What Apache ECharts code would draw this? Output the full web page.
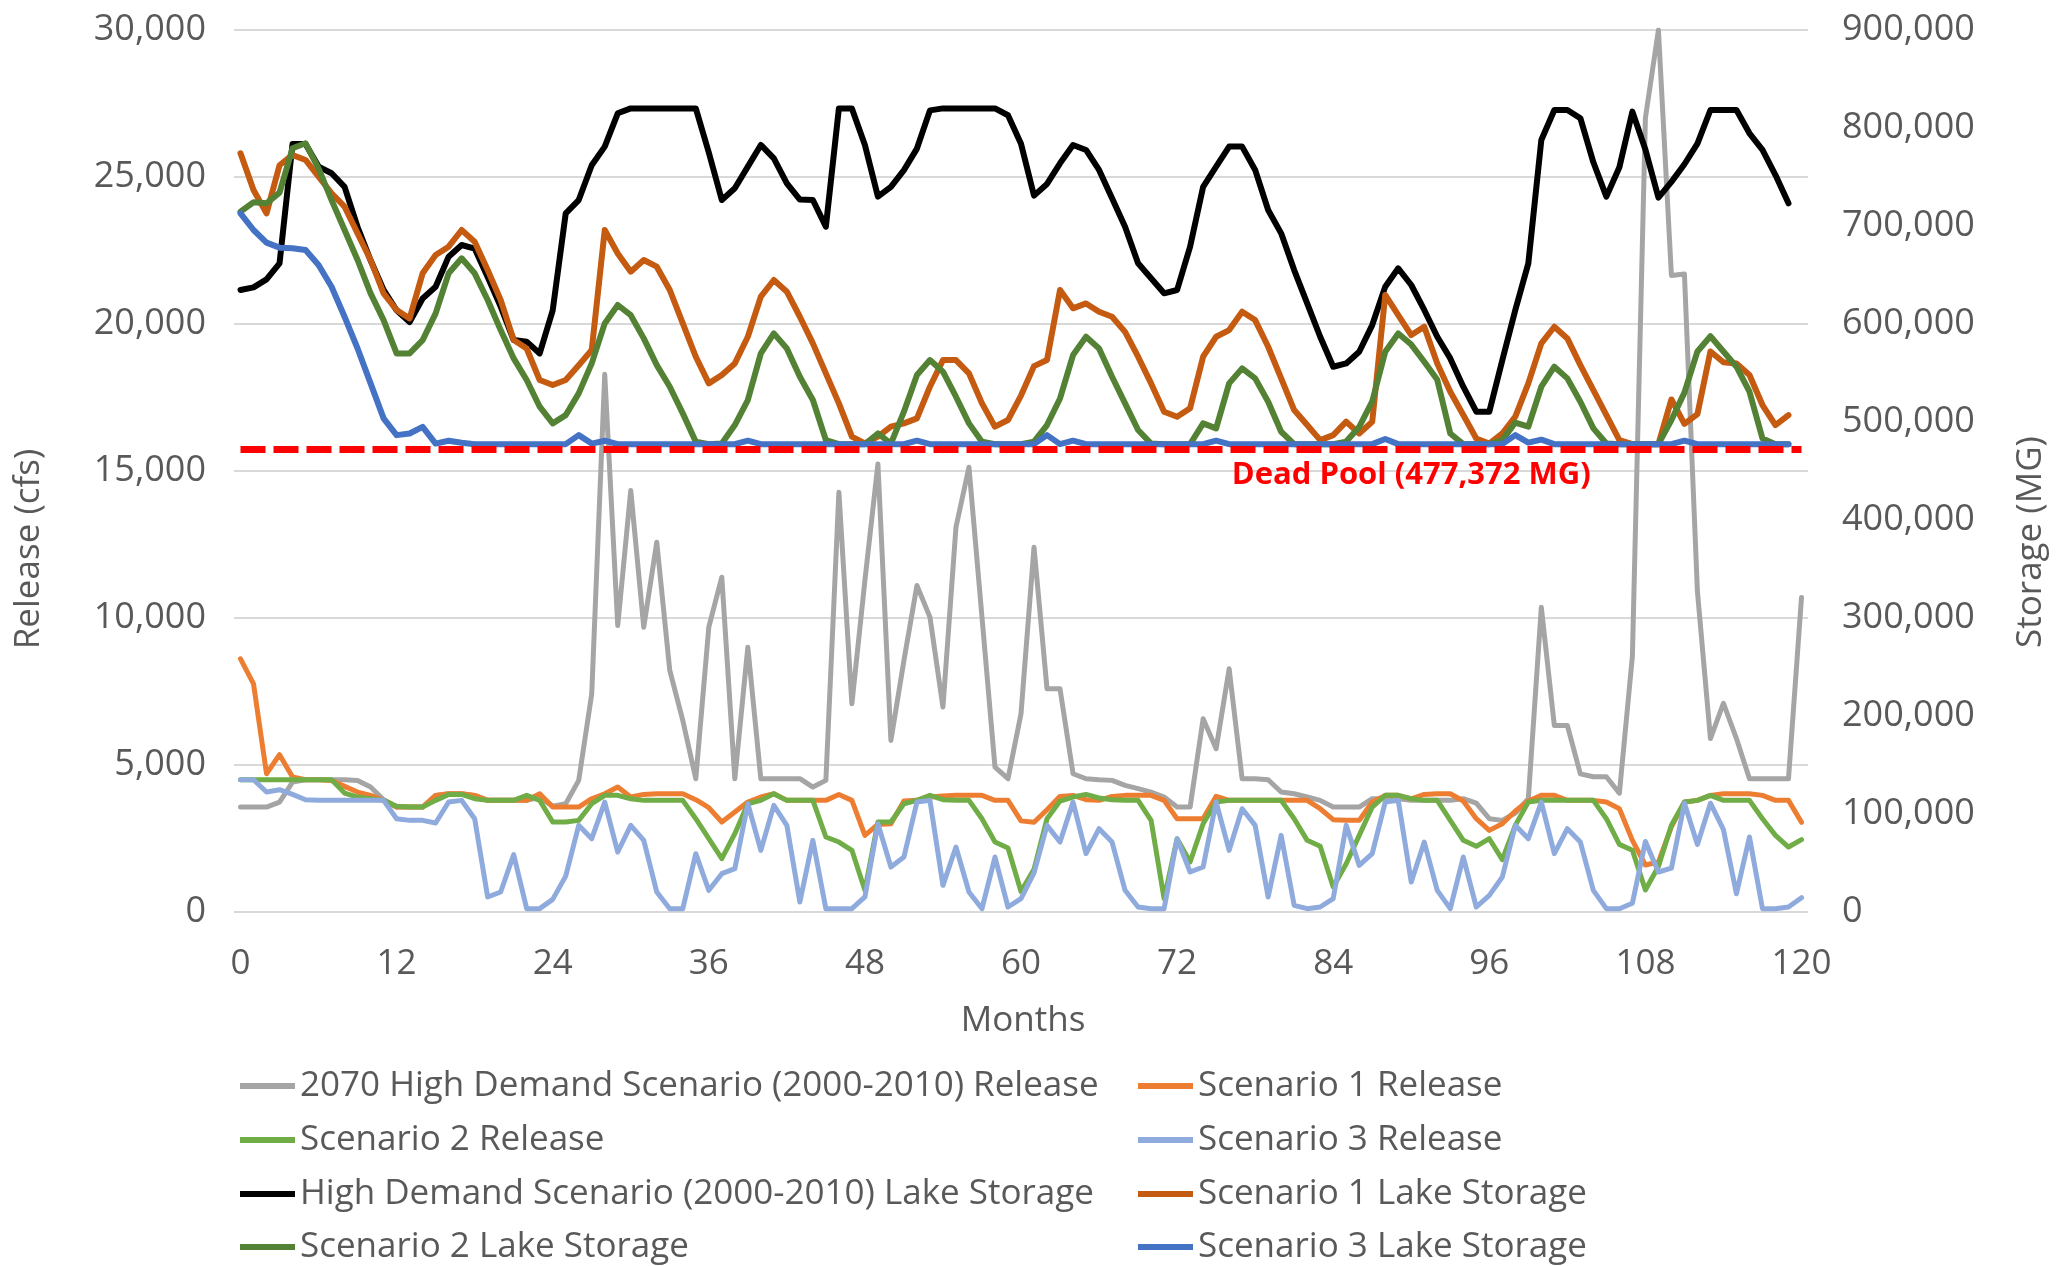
<!DOCTYPE html>
<html>
<head>
<meta charset="utf-8">
<script src="https://cdn.jsdelivr.net/npm/echarts@6/dist/echarts.min.js"></script>
<style>
html,body{margin:0;padding:0;background:#ffffff;}
#chart{width:2056px;height:1266px;}
</style>
</head>
<body>
<div id="chart"></div>
<script>
// ---- categories (months) ----
const months = [];
for (let i = 0; i <= 120; i++) months.push(String(i));

// ---- Release series (cfs), months 0..120 ----
const greyRelease = [3570,3570,3570,3740,4420,4500,4500,4500,4500,4476,4250,3820,3570,3570,3570,3967,4023,4023,3967,3797,3797,3797,3797,3900,3600,3683,4477,7422,18290,9745,14334,9688,12578,8215,6516,4533,9688,11388,4533,9008,4533,4533,4533,4533,4250,4477,14277,7082,11275,15240,5836,8555,11105,10029,6969,13087,15127,10029,4930,4533,6742,12408,7592,7592,4703,4533,4500,4477,4307,4194,4080,3910,3570,3570,6573,5553,8272,4533,4533,4500,4080,4023,3910,3797,3570,3570,3570,3853,3850,3850,3797,3797,3797,3797,3853,3706,3173,3117,3366,3853,10368,6346,6346,4700,4600,4600,4040,8700,27000,30000,21650,21700,10900,5900,7100,5900,4533,4533,4533,4533,10700];
const s1Release = [8612,7762,4703,5350,4590,4500,4500,4476,4273,4080,3967,3800,3570,3570,3570,3967,4023,4023,3967,3797,3797,3797,3797,4023,3570,3570,3570,3853,4023,4250,3910,4000,4023,4023,4023,3820,3547,3060,3400,3740,3910,4023,3797,3797,3797,3797,4000,3797,2606,2980,3003,3774,3797,3910,3944,3967,3967,3967,3797,3797,3100,3050,3480,3933,3967,3820,3797,3933,3967,3967,3967,3797,3173,3173,3173,3933,3797,3797,3797,3797,3797,3797,3797,3513,3140,3117,3117,3740,3967,3967,3850,4000,4023,4023,3774,3173,2777,3003,3434,3774,3967,3967,3797,3797,3797,3740,3513,2437,1600,1700,2900,3740,3797,3967,4023,4023,4023,3967,3797,3797,3050];
const s2Release = [4500,4500,4500,4500,4500,4500,4500,4500,4046,3910,3853,3797,3593,3570,3570,3797,4000,4000,3853,3797,3797,3797,3967,3797,3060,3060,3117,3683,3967,3967,3853,3797,3797,3797,3797,3173,2493,1813,2663,3683,3797,4023,3797,3797,3797,2550,2380,2097,737,3060,3060,3683,3797,3967,3820,3797,3797,3173,2380,2180,700,1450,3173,3774,3910,4000,3877,3820,3797,3797,3117,453,2493,1700,3003,3740,3797,3797,3797,3797,3797,3173,2437,2233,850,1643,2606,3570,3967,3967,3853,3797,3797,3117,2437,2233,2493,1780,2947,3740,3797,3797,3797,3797,3797,3173,2300,2100,750,1550,2950,3740,3797,3967,3797,3797,3797,3173,2606,2210,2460];
const s3Release = [4500,4500,4080,4160,4000,3820,3797,3797,3797,3797,3797,3797,3173,3117,3117,3026,3740,3797,3173,511,680,1950,114,114,430,1220,2947,2493,3740,2040,2947,2437,680,113,113,1983,737,1303,1473,3683,2097,3627,2947,340,2437,113,113,113,511,3003,1530,1870,3740,3797,907,2210,680,113,1870,170,453,1330,2947,2380,3740,1983,2833,2380,737,170,113,113,2493,1360,1530,3740,2097,3513,2947,511,2606,226,113,170,453,2947,1586,1983,3740,3797,1020,2380,737,113,1870,170,567,1190,2947,2493,3740,1983,2833,2380,737,113,113,300,2400,1360,1490,3700,2300,3700,2800,623,2550,113,113,170,487];

// ---- Lake storage series (MG), months 0..119 ----
const hdStorage = [634700,637400,645500,661900,783700,783700,760600,753800,740000,699000,665000,634700,614000,602000,626000,638000,668700,680600,677000,648000,617700,583600,582000,570000,614000,712900,726500,762000,781000,815000,820000,820000,820000,820000,820000,820000,775000,726500,738500,760600,782700,769000,743600,727000,726500,699300,820000,820000,782700,730000,740000,757000,779000,818000,820000,820000,820000,820000,820000,813000,784000,731000,742900,764000,782700,777600,757200,728200,699300,661900,646600,631300,634700,678900,740000,760600,781000,781000,757200,716300,692500,655000,621000,587000,556400,559800,571700,598900,638100,656800,639800,614300,587000,564900,536000,510500,510500,563000,614300,661900,787800,818400,818400,810000,765000,730000,760000,816700,778000,729000,745000,763000,784000,818400,818400,818400,794600,777600,752000,723100];
const s1Storage = [774200,736700,712900,762000,772500,767400,750400,733400,719700,692500,665300,631300,614300,605700,651700,670400,678900,695900,684000,655000,624500,583600,575000,542800,537700,542800,558000,573400,695900,672000,653400,665300,658500,634700,600600,566600,539400,547900,559800,587000,627900,644900,633000,607400,580200,549600,519000,485000,478200,485000,495200,498600,503700,536000,563200,563200,549600,519000,495200,502000,527000,557000,563200,634700,616000,621000,612500,607400,592000,566600,539400,510500,505400,514000,566600,587000,593800,612500,604000,576800,544500,512200,496900,481500,486600,500300,488300,500300,629600,609100,588700,597200,559800,530900,507100,483200,478000,488300,505400,539400,580200,597200,585300,558000,532600,507000,481500,477400,477400,477400,523000,498000,508000,572000,561000,559800,547900,517300,496900,507000];
const s2Storage = [714600,724200,723100,734000,779300,784400,758900,726500,695900,665300,631300,604000,570000,570000,583600,610800,651700,667000,651700,624500,593800,564900,542800,515600,498600,507000,529200,559800,600600,619400,609000,585300,558000,536000,508800,479900,477400,478000,496900,522400,570000,590400,575000,546200,522400,481500,477400,477400,477400,488300,478000,510500,547900,563200,551300,525800,498600,479900,477400,477400,477400,480000,496900,524000,568300,587000,575000,546200,519000,491800,478000,477400,477400,477400,498600,493500,539400,554700,544500,520700,490000,477400,477400,477400,477400,480000,495000,521000,571700,590400,579000,561500,543000,488300,477400,477400,477400,481500,499400,495200,536000,556400,544500,520700,493500,478000,477400,477400,477400,477400,502000,530000,572000,587500,572000,556400,530900,483200,477400,477400];
const s3Storage = [712900,695900,683000,677900,677200,675500,660200,638000,607400,575000,539400,503700,486600,488300,495000,478000,480900,478800,477400,477400,477400,477400,477400,477400,477400,477400,486600,478000,480900,477400,477400,477400,477400,477400,477400,477400,477400,477400,477400,480900,477400,477400,477400,477400,477400,477400,477400,477400,477400,477400,477400,477400,480900,477400,477400,477400,477400,477400,477400,477400,477400,477400,486600,477400,480900,477400,477400,477400,477400,477400,477400,477400,477400,477400,477400,480900,477400,477400,477400,477400,477400,477400,477400,477400,477400,477400,477400,477400,482600,477400,477400,477400,477400,477400,477400,477400,477400,477400,486600,479000,482000,477400,477400,477400,477400,477400,477400,477400,477400,477400,477400,480900,477400,477400,477400,477400,477400,477400,477400,477400];

// ---- reference line ----
const deadPoolLine = 472000;           // drawn position
const deadPoolText = 'Dead Pool (477,372 MG)';
const deadPoolLabelMonth = '90';

// ---- names / colours ----
const names = {
  grey: '2070 High Demand Scenario (2000-2010) Release',
  s1r: 'Scenario 1 Release',
  s2r: 'Scenario 2 Release',
  s3r: 'Scenario 3 Release',
  hd: 'High Demand Scenario (2000-2010) Lake Storage',
  s1s: 'Scenario 1 Lake Storage',
  s2s: 'Scenario 2 Lake Storage',
  s3s: 'Scenario 3 Lake Storage'
};

const FONT = '"Open Sans", "Noto Sans", sans-serif';
const TXT = '#595959';

function fmt(v){ return Number(v).toLocaleString('en-US'); }

function lineSeries(name, data, color, width, yIdx){
  return {
    name: name, type: 'line', data: data, yAxisIndex: yIdx,
    showSymbol: false, symbol: 'none', smooth: false,
    lineStyle: {color: color, width: width, cap: 'round', join: 'round'},
    itemStyle: {color: color},
    emphasis: {disabled: true},
    z: yIdx === 1 ? 3 : 2
  };
}

const series = [
  lineSeries(names.grey, greyRelease, '#A5A5A5', 5, 0),
  lineSeries(names.s1r, s1Release, '#ED7D31', 5, 0),
  lineSeries(names.s2r, s2Release, '#70AD47', 5, 0),
  lineSeries(names.s3r, s3Release, '#8FAADC', 5, 0),
  lineSeries(names.hd, hdStorage, '#000000', 6, 1),
  lineSeries(names.s1s, s1Storage, '#C55A11', 6, 1),
  lineSeries(names.s2s, s2Storage, '#548235', 6, 1),
  lineSeries(names.s3s, s3Storage, '#4472C4', 6, 1)
];

series[7].markLine = {
  silent: true, symbol: ['none','none'], animation: false,
  label: {show: false},
  lineStyle: {color: '#FF0000', width: 7, type: [25, 8], opacity: 1},
  data: [[{coord: ['0', deadPoolLine]}, {coord: ['120', deadPoolLine]}]],
  z: 10
};
series[7].markPoint = {
  silent: true, animation: false,
  symbol: 'circle', symbolSize: 1,
  itemStyle: {color: 'rgba(0,0,0,0)'},
  label: {show: true, position: 'bottom', distance: 10, formatter: deadPoolText,
          color: '#FF0000', fontWeight: 'bold', fontSize: 31, fontFamily: FONT},
  data: [{coord: [deadPoolLabelMonth, deadPoolLine]}]
};

// legend: two columns x four rows, one legend entry each
const legendLayout = [
  [names.grey, 240, 1086], [names.s1r, 1138, 1086],
  [names.s2r, 240, 1140], [names.s3r, 1138, 1140],
  [names.hd, 240, 1194], [names.s1s, 1138, 1194],
  [names.s2s, 240, 1247], [names.s3s, 1138, 1247]
];
const legends = legendLayout.map(function(l){
  return {
    data: [l[0]], left: l[1], top: l[2] - 18, padding: 0,
    orient: 'horizontal', icon: 'rect', itemWidth: 55, itemHeight: 6,
    selectedMode: false,
    textStyle: {fontFamily: FONT, fontSize: 35, color: TXT, lineHeight: 36}
  };
});

const option = {
  animation: false,
  backgroundColor: '#ffffff',
  grid: {left: 234, right: 248, top: 30, bottom: 354, containLabel: false},
  legend: legends,
  xAxis: {
    type: 'category', data: months, boundaryGap: true,
    axisLine: {show: false}, axisTick: {show: false},
    axisLabel: {interval: 11, margin: 35, fontFamily: FONT, fontSize: 35, color: TXT},
    splitLine: {show: false}
  },
  yAxis: [
    {type: 'value', min: 0, max: 30000, interval: 5000,
     axisLine: {show: false}, axisTick: {show: false},
     axisLabel: {margin: 28, fontFamily: FONT, fontSize: 36, color: TXT, formatter: fmt},
     splitLine: {show: true, lineStyle: {color: '#D9D9D9', width: 2}}},
    {type: 'value', min: 0, max: 900000, interval: 100000, position: 'right',
     axisLine: {show: false}, axisTick: {show: false},
     axisLabel: {margin: 34, fontFamily: FONT, fontSize: 36, color: TXT, formatter: fmt},
     splitLine: {show: false}}
  ],
  graphic: [
    {type: 'text', x: 29, y: 549, rotation: Math.PI/2,
     style: {text: 'Release (cfs)', fontFamily: FONT, fontSize: 35, fill: TXT, textAlign: 'center', textVerticalAlign: 'middle'}},
    {type: 'text', x: 2031, y: 542, rotation: Math.PI/2,
     style: {text: 'Storage (MG)', fontFamily: FONT, fontSize: 35, fill: TXT, textAlign: 'center', textVerticalAlign: 'middle'}},
    {type: 'text', x: 1023, y: 1021,
     style: {text: 'Months', fontFamily: FONT, fontSize: 35, fill: TXT, textAlign: 'center', textVerticalAlign: 'middle'}}
  ],
  series: series
};

const chart = echarts.init(document.getElementById('chart'), null, {renderer: 'canvas'});
chart.setOption(option);
</script>
</body>
</html>
